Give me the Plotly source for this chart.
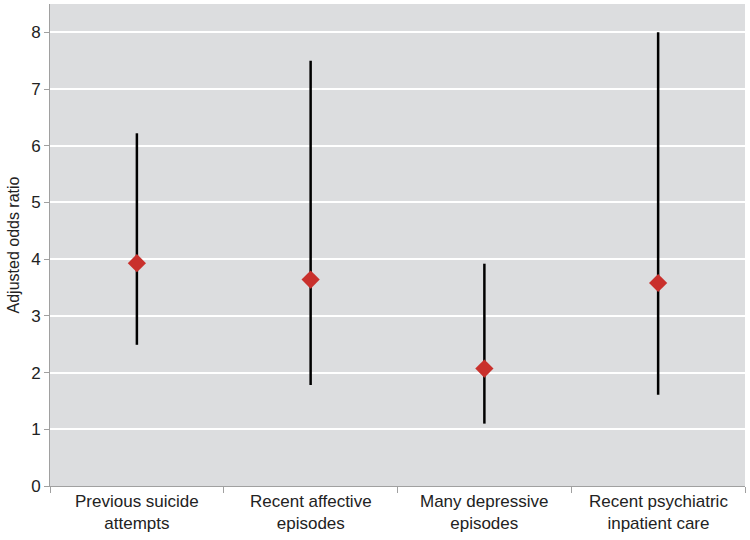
import plotly.graph_objects as go

categories = ["Previous suicide<br>attempts", "Recent affective<br>episodes",
              "Many depressive<br>episodes", "Recent psychiatric<br>inpatient care"]
odds_ratio = [3.93, 3.64, 2.07, 3.58]
ci_low = [2.49, 1.78, 1.10, 1.61]
ci_high = [6.22, 7.50, 3.92, 8.00]
y_ticks = [0, 1, 2, 3, 4, 5, 6, 7, 8]

xpos = list(range(1, len(categories) + 1))

fig = go.Figure()
fig.add_trace(go.Scatter(
    x=xpos, y=odds_ratio, mode="markers",
    marker=dict(symbol="diamond", size=14, color="#c9302c", line=dict(width=0)),
    error_y=dict(type="data", symmetric=False,
                 array=[h - v for h, v in zip(ci_high, odds_ratio)],
                 arrayminus=[v - l for v, l in zip(odds_ratio, ci_low)],
                 width=0, thickness=2.5, color="black"),
    showlegend=False, hoverinfo="skip"))

for x, c in zip(xpos, categories):
    fig.add_annotation(x=x, y=0, xref="x", yref="paper", yanchor="top", yshift=-4,
                       text=c, showarrow=False, align="center",
                       font=dict(family="Liberation Sans, Arial", size=17, color="#222"))

fig.update_layout(
    width=750, height=540,
    margin=dict(l=50, r=5, t=4, b=54, autoexpand=False),
    paper_bgcolor="white", plot_bgcolor="#dcdddf",
    font=dict(family="Liberation Sans, Arial", size=17, color="#222"),
    xaxis=dict(range=[0.5, 4.5], tickvals=[0.5, 1.5, 2.5, 3.5, 4.5],
               ticktext=["", "", "", "", ""], ticks="outside", ticklen=6,
               tickcolor="#a0a0a0", showgrid=False, zeroline=False,
               showline=True, linecolor="#a0a0a0", linewidth=1),
    yaxis=dict(range=[0, 8.5], tickvals=y_ticks, ticks="outside", ticklen=5,
               tickcolor="#a0a0a0", showgrid=True, gridcolor="white", gridwidth=2,
               zeroline=False, showline=True, linecolor="#a0a0a0", linewidth=1,
               title=dict(text="Adjusted odds ratio", font=dict(size=16), standoff=7),
               tickfont=dict(size=17)),
)

fig.write_html("out.html", config={"displayModeBar": False},
               post_script="document.body.style.margin='0';")
